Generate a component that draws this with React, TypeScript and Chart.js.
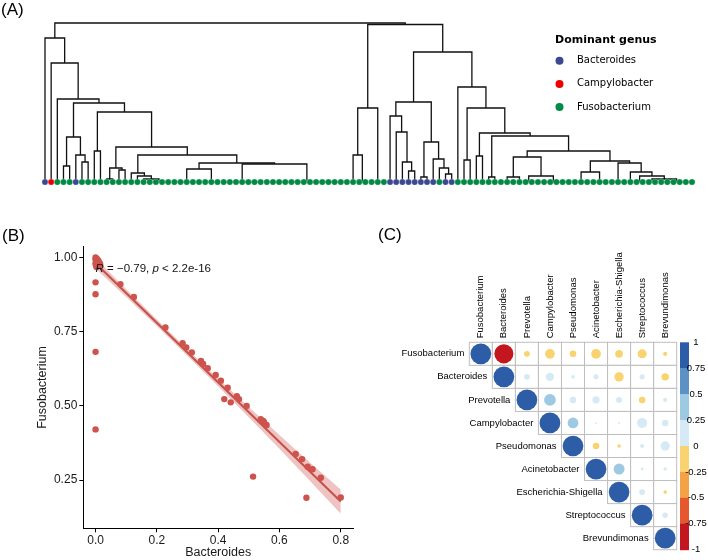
import React, { useEffect, useRef } from "react";
import { Chart, registerables } from "chart.js";

Chart.register(...registerables);

const SANS = "'Liberation Sans', Arial, Helvetica, sans-serif";
const LEGEND_FONT = "'DejaVu Sans', Verdana, sans-serif";

// ================= Panel A: dendrogram =================
// dominant genus of each leaf, left to right (B = Bacteroides, C = Campylobacter, F = Fusobacterium)
const leafGenus =
  "BCFFFBFFFF" + "FFFFFFFFFF" + "FFFFFFFFFF" + "FFFFFFFFFF" + "FFFFFFFFFF" +
  "FFFFFFBBBB" + "BBBBFBBFFF" + "FFFFFFFFFF" + "FFFFFFFFFF" + "FFFFFFFFFF" + "FFFFFF";
const genusCodes = ["B", "C", "F"];
const genusNames = ["Bacteroides", "Campylobacter", "Fusobacterium"];
const genusColors = ["#3B4992", "#EE0000", "#008B45"];
const legendTitle = "Dominant genus";

// tree node: leaf index | "a-b" (leaves merged at ~0) | [merge height, left, right]
type TreeNode = number | string | [number, TreeNode, TreeNode];

const cladeL4: TreeNode = [0.45, [0.16, 3, 4], [0.27, 5, [0.2, 6, 7]]];
const cladeL13: TreeNode = [0.09, 14, [0.06, 15, [0.03, 16, "17-20"]]];
const cladeL14: TreeNode = [0.19, [0.13, "21-25", "26-28"], [0.18, "29-35", "36-49"]];
const cladeL10: TreeNode = [0.35, [0.14, [0.03, 10, 11], [0.12, 12, 13]], [0.27, cladeL13, cladeL14]];
const cladeL5: TreeNode = [0.7, [0.31, 8, 9], cladeL10];
const leftClade: TreeNode = [1.44, 0, [1.19, 1, [0.83, 2, [0.79, cladeL4, cladeL5]]]];

const cladeA: TreeNode = [0.74, [0.27, 50, "51-52"], "53-55"];
const cladeB1: TreeNode = [
  0.8,
  [0.66, 56, [0.5, 57, [0.2, 58, [0.11, 59, 60]]]],
  [0.4, [0.05, 61, 62], [0.23, 63, [0.14, 64, [0.08, 65, 66]]]],
];
const cladeD1: TreeNode = [0.25, [0.05, "74-76", 77], [0.06, "78-79", "80-85"]];
const cladeD2: TreeNode = [
  0.21,
  [0.1, "86-88", "89-91"],
  [0.19, "92-94", [0.1, 95, [0.06, "96-97", [0.03, "98-99", "100-105"]]]],
];
const cladeB2: TreeNode = [
  0.95,
  67,
  [0.74, [0.22, 68, 69], [0.49, [0.26, 70, 71], [0.46, [0.05, 72, 73], [0.31, cladeD1, cladeD2]]]],
];
const rightClade: TreeNode = [1.575, cladeA, [1.3, cladeB1, cladeB2]];
const rootHeight = 1.59;
const dendroTree: TreeNode = [rootHeight, leftClade, rightClade];

// ================= Panel B: scatter =================
const bacteroides = [
  0, 0, 0.002, 0.004, 0.006, 0.009, 0.012, 0.015, 0.001, 0.003, 0.007, 0,
  0, 0, 0, 0,
  0.081, 0.125, 0.228, 0.284, 0.296, 0.314, 0.344, 0.351, 0.366, 0.392, 0.409, 0.42,
  0.431, 0.441, 0.461, 0.468, 0.493, 0.514, 0.539, 0.547, 0.55, 0.558, 0.653, 0.674,
  0.688, 0.692, 0.708, 0.735, 0.8,
];
const fusobacterium = [
  1.0, 0.993, 0.988, 0.996, 0.984, 0.99, 0.982, 0.978, 0.975, 0.968, 0.972, 0.98,
  0.916, 0.876, 0.682, 0.421,
  0.91, 0.867, 0.764, 0.711, 0.697, 0.68, 0.651, 0.641, 0.627, 0.604, 0.585, 0.523,
  0.561, 0.512, 0.533, 0.523, 0.5, 0.262, 0.455, 0.449, 0.445, 0.436, 0.338, 0.321,
  0.191, 0.295, 0.287, 0.258, 0.192,
];
const fitX = [0, 0.8];
const fitY = [0.98, 0.178];
const bandX = [0, 0.1, 0.2, 0.3, 0.4, 0.5, 0.6, 0.7, 0.8];
const bandHi = [0.997, 0.893, 0.791, 0.69, 0.592, 0.496, 0.402, 0.309, 0.219];
const bandLo = [0.963, 0.867, 0.769, 0.668, 0.566, 0.462, 0.356, 0.247, 0.137];
const xTicksB = [0, 0.2, 0.4, 0.6, 0.8];
const yTicksB = [0.25, 0.5, 0.75, 1.0];
const corLabelPos = [0, 0.963];
const corR = "−0.79";
const corP = "2.2e-16";

// ================= Panel C: correlation matrix =================
const genera = [
  "Fusobacterium", "Bacteroides", "Prevotella", "Campylobacter", "Pseudomonas",
  "Acinetobacter", "Escherichia-Shigella", "Streptococcus", "Brevundimonas",
];
// upper-triangle rows (starting at the diagonal)
const corrRow0 = [1, -0.85, -0.08, -0.22, -0.1, -0.22, -0.14, -0.19, -0.04];
const corrRow1 = [1, 0.08, 0.16, 0.03, 0.06, -0.2, 0.06, -0.13];
const corrRow2 = [1, 0.32, 0.1, 0.12, 0.08, -0.1, 0.04];
const corrRow3 = [1, 0.27, 0.01, 0.01, 0.24, 0.1];
const corrRow4 = [1, -0.1, -0.03, 0.04, 0.2];
const corrRow5 = [1, 0.28, 0.02, 0.03];
const corrRow6 = [1, 0.08, -0.03];
const corrRow7 = [1, 0.07];
const corrRow8 = [1];
const corrRows = [corrRow0, corrRow1, corrRow2, corrRow3, corrRow4, corrRow5, corrRow6, corrRow7, corrRow8];
const barBreaks = [1, 0.75, 0.5, 0.25, 0, -0.25, -0.5, -0.75, -1];
const barLabels = ["1", "0.75", "0.5", "0.25", "0", "-0.25", "-0.5", "-0.75", "-1"];
const barColors = ["#2E5DA7", "#5B91C5", "#9DC9E2", "#D5EAF4", "#F9D36F", "#F3A246", "#E4572F", "#C4161E"];

function corrColor(v: number) {
  for (let k = 0; k < barColors.length; k++) {
    if (v >= barBreaks[k + 1]) return barColors[k];
  }
  return barColors[barColors.length - 1];
}

// ---------- builders ----------
function layoutTree(node: TreeNode, segs: { x: number; y: number }[][]): { x: number; h: number } {
  if (typeof node === "number") return { x: node, h: 0 };
  if (typeof node === "string") {
    const [a, b] = node.split("-").map(Number);
    segs.push([{ x: a, y: 0 }, { x: b, y: 0 }]);
    return { x: (a + b) / 2, h: 0 };
  }
  const [h, l, r] = node;
  const L = layoutTree(l, segs);
  const R = layoutTree(r, segs);
  segs.push([
    { x: L.x, y: L.h },
    { x: L.x, y: h },
    { x: R.x, y: h },
    { x: R.x, y: R.h },
  ]);
  return { x: (L.x + R.x) / 2, h };
}

function panelLabel(ctx: CanvasRenderingContext2D, text: string, x: number, y: number) {
  ctx.save();
  ctx.fillStyle = "#000";
  ctx.font = `17px ${SANS}`;
  ctx.textAlign = "left";
  ctx.textBaseline = "middle";
  ctx.fillText(text, x, y);
  ctx.restore();
}

function buildDendrogram(): any {
  const segs: { x: number; y: number }[][] = [];
  layoutTree(dendroTree, segs);
  const nLeaves = leafGenus.length;
  const leafColors = leafGenus.split("").map((g) => genusColors[genusCodes.indexOf(g)]);
  const datasets: any[] = [
    {
      data: leafGenus.split("").map((_, i) => ({ x: i, y: 0 })),
      showLine: false,
      pointRadius: 3.1,
      pointBackgroundColor: leafColors,
      pointBorderColor: "rgba(255,255,255,0.5)",
      pointBorderWidth: 0.5,
      clip: false,
    },
    ...segs.map((s) => ({
      data: s,
      showLine: true,
      borderColor: "#111",
      borderWidth: 1.3,
      pointRadius: 0,
      clip: false,
    })),
  ];
  const decor = {
    id: "dendroDecor",
    afterDraw(chart: any) {
      const { ctx } = chart;
      panelLabel(ctx, "(A)", 1, 10);
      ctx.save();
      ctx.fillStyle = "#000";
      ctx.textBaseline = "middle";
      ctx.textAlign = "left";
      ctx.font = `bold 11px ${LEGEND_FONT}`;
      ctx.fillText(legendTitle, 555, 40);
      ctx.font = `10px ${LEGEND_FONT}`;
      genusNames.forEach((name, k) => {
        const yy = 60.7 + k * 23.2;
        ctx.beginPath();
        ctx.fillStyle = genusColors[k];
        ctx.arc(559.5, yy, 4, 0, Math.PI * 2);
        ctx.fill();
        ctx.fillStyle = "#000";
        ctx.fillText(name, 577, yy);
      });
      ctx.restore();
    },
  };
  return {
    type: "scatter",
    data: { datasets },
    options: {
      animation: false,
      responsive: false,
      events: [],
      layout: { autoPadding: false, padding: { left: 45, right: 16, top: 23, bottom: 18 } },
      plugins: { legend: { display: false }, tooltip: { enabled: false } },
      scales: {
        x: { type: "linear", min: 0, max: nLeaves - 1, display: false },
        y: { type: "linear", min: 0, max: rootHeight, display: false },
      },
    },
    plugins: [decor],
  };
}

function buildScatter(): any {
  const pointCol = "#CD534C";
  const decor = {
    id: "scatterDecor",
    afterDatasetsDraw(chart: any) {
      const { ctx, scales } = chart;
      const px = scales.x.getPixelForValue(corLabelPos[0]);
      const py = scales.y.getPixelForValue(corLabelPos[1]);
      const parts: [string, boolean][] = [
        ["R", true],
        [` = ${corR}, `, false],
        ["p", true],
        [` < ${corP}`, false],
      ];
      ctx.save();
      ctx.fillStyle = "#111";
      ctx.textBaseline = "middle";
      ctx.textAlign = "left";
      let cx = px;
      for (const [t, it] of parts) {
        ctx.font = `${it ? "italic " : ""}11.5px ${SANS}`;
        ctx.fillText(t, cx, py);
        cx += ctx.measureText(t).width;
      }
      ctx.restore();
    },
    afterDraw(chart: any) {
      panelLabel(chart.ctx, "(B)", 2, 36);
    },
  };
  const tickFont = { size: 12, family: SANS };
  const titleFont = { size: 12.5, family: SANS };
  return {
    type: "scatter",
    data: {
      datasets: [
        {
          data: bacteroides.map((x, i) => ({ x, y: fusobacterium[i] })),
          showLine: false,
          pointRadius: 3.2,
          pointBackgroundColor: pointCol,
          pointBorderWidth: 0,
        },
        {
          data: fitX.map((x, i) => ({ x, y: fitY[i] })),
          showLine: true,
          borderColor: "#C4504A",
          borderWidth: 2,
          pointRadius: 0,
        },
        {
          data: bandX.map((x, i) => ({ x, y: bandHi[i] })),
          showLine: true,
          borderWidth: 0,
          borderColor: "rgba(0,0,0,0)",
          pointRadius: 0,
          fill: "+1",
          backgroundColor: "rgba(205,83,76,0.35)",
        },
        {
          data: bandX.map((x, i) => ({ x, y: bandLo[i] })),
          showLine: true,
          borderWidth: 0,
          borderColor: "rgba(0,0,0,0)",
          pointRadius: 0,
        },
      ],
    },
    options: {
      animation: false,
      responsive: false,
      events: [],
      layout: { autoPadding: false, padding: { left: 0, right: 7, top: 46.7, bottom: 0 } },
      plugins: { legend: { display: false }, tooltip: { enabled: false } },
      scales: {
        x: {
          type: "linear",
          min: -0.04,
          max: 0.84,
          afterFit: (s: any) => {
            s.height = 31.7;
          },
          afterBuildTicks: (s: any) => {
            s.ticks = xTicksB.map((v) => ({ value: v }));
          },
          ticks: {
            callback: (v: any) => Number(v).toFixed(1),
            color: "#1a1a1a",
            font: tickFont,
            padding: 1,
            maxRotation: 0,
          },
          grid: { display: true, drawOnChartArea: false, drawTicks: true, tickLength: 4, color: "#000" },
          border: { display: true, color: "#000", width: 1 },
          title: { display: true, text: "Bacteroides", color: "#1a1a1a", font: titleFont, padding: { top: 0, bottom: 0 } },
        },
        y: {
          type: "linear",
          min: 0.088,
          max: 1.036,
          afterFit: (s: any) => {
            s.width = 83.3;
          },
          afterBuildTicks: (s: any) => {
            s.ticks = yTicksB.map((v) => ({ value: v }));
          },
          ticks: {
            callback: (v: any) => Number(v).toFixed(2),
            color: "#1a1a1a",
            font: tickFont,
            padding: 2,
          },
          grid: { display: true, drawOnChartArea: false, drawTicks: true, tickLength: 4, color: "#000" },
          border: { display: true, color: "#000", width: 1 },
          title: { display: true, text: "Fusobacterium", color: "#1a1a1a", font: titleFont, padding: { top: 35.5, bottom: 0 } },
        },
      },
    },
    plugins: [decor],
  };
}

function buildCorr(): any {
  const n = genera.length;
  const points: any[] = [];
  corrRows.forEach((row, i) => {
    row.forEach((v, k) => {
      const j = i + k;
      points.push({ x: j + 0.5, y: i + 0.5, v });
    });
  });
  const labelFont = `9.5px ${SANS}`;
  const decor = {
    id: "corrDecor",
    beforeDatasetsDraw(chart: any) {
      const { ctx, scales } = chart;
      const { x, y } = scales;
      ctx.save();
      ctx.strokeStyle = "#BEBEBE";
      ctx.lineWidth = 1;
      for (let i = 0; i < n; i++) {
        for (let j = i; j < n; j++) {
          const x0 = x.getPixelForValue(j);
          const x1 = x.getPixelForValue(j + 1);
          const y0 = y.getPixelForValue(i);
          const y1 = y.getPixelForValue(i + 1);
          ctx.fillStyle = "#fff";
          ctx.fillRect(x0, y0, x1 - x0, y1 - y0);
          ctx.strokeRect(x0, y0, x1 - x0, y1 - y0);
        }
      }
      ctx.restore();
    },
    afterDraw(chart: any) {
      const { ctx, scales, chartArea } = chart;
      const { x, y } = scales;
      ctx.save();
      ctx.fillStyle = "#000";
      ctx.font = labelFont;
      // row labels
      ctx.textAlign = "right";
      ctx.textBaseline = "middle";
      for (let i = 0; i < n; i++) {
        ctx.fillText(genera[i], x.getPixelForValue(i) - 5, y.getPixelForValue(i + 0.5));
      }
      // column labels
      for (let j = 0; j < n; j++) {
        ctx.save();
        ctx.translate(x.getPixelForValue(j + 0.5), chartArea.top - 4);
        ctx.rotate(-Math.PI / 2);
        ctx.textAlign = "left";
        ctx.textBaseline = "middle";
        ctx.fillText(genera[j], 0, 0);
        ctx.restore();
      }
      // colour bar
      const bx = chartArea.right + 3.3;
      const bw = 9;
      const span = chartArea.bottom - chartArea.top;
      const yOf = (v: number) => chartArea.top + ((1 - v) / 2) * span;
      for (let k = 0; k < barColors.length; k++) {
        const ya = yOf(barBreaks[k]);
        const yb = yOf(barBreaks[k + 1]);
        ctx.fillStyle = barColors[k];
        ctx.fillRect(bx, ya, bw, yb - ya + 0.5);
      }
      ctx.fillStyle = "#000";
      ctx.textAlign = "center";
      ctx.textBaseline = "middle";
      barLabels.forEach((lab, k) => {
        ctx.fillText(lab, bx + 16, yOf(barBreaks[k]));
      });
      ctx.restore();
      panelLabel(ctx, "(C)", 18, 35);
    },
  };
  return {
    type: "scatter",
    data: {
      datasets: [
        {
          data: points,
          showLine: false,
          pointBorderWidth: 0,
          pointBackgroundColor: (c: any) => (c.raw ? corrColor(c.raw.v) : "#000"),
          pointRadius: (c: any) => {
            if (!c.raw) return 0;
            const xs = c.chart.scales.x;
            const cell = xs ? Math.abs(xs.getPixelForValue(1) - xs.getPixelForValue(0)) : NaN;
            if (!isFinite(cell) || cell <= 0) return 0;
            return 0.45 * cell * Math.sqrt(Math.abs(c.raw.v));
          },
        },
      ],
    },
    options: {
      animation: false,
      responsive: false,
      events: [],
      layout: { autoPadding: false, padding: { left: 109.3, right: 31.3, top: 142.3, bottom: 10.3 } },
      plugins: { legend: { display: false }, tooltip: { enabled: false } },
      scales: {
        x: { type: "linear", min: 0, max: n, display: false },
        y: { type: "linear", min: 0, max: n, reverse: true, display: false },
      },
    },
    plugins: [decor],
  };
}

export default function App() {
  const refA = useRef<HTMLCanvasElement>(null);
  const refB = useRef<HTMLCanvasElement>(null);
  const refC = useRef<HTMLCanvasElement>(null);
  useEffect(() => {
    Chart.defaults.font.family = SANS;
    const charts = [
      new Chart(refA.current!, buildDendrogram()),
      new Chart(refB.current!, buildScatter()),
      new Chart(refC.current!, buildCorr()),
    ];
    return () => charts.forEach((c) => c.destroy());
  }, []);
  return (
    <div
      style={{
        position: "absolute",
        left: 0,
        top: 0,
        width: 708,
        height: 560,
        background: "#fff",
        overflow: "hidden",
      }}
    >
      <canvas ref={refA} width={708} height={200} style={{ position: "absolute", left: 0, top: 0 }} />
      <canvas ref={refB} width={360} height={360} style={{ position: "absolute", left: 0, top: 200 }} />
      <canvas ref={refC} width={348} height={360} style={{ position: "absolute", left: 360, top: 200 }} />
    </div>
  );
}
